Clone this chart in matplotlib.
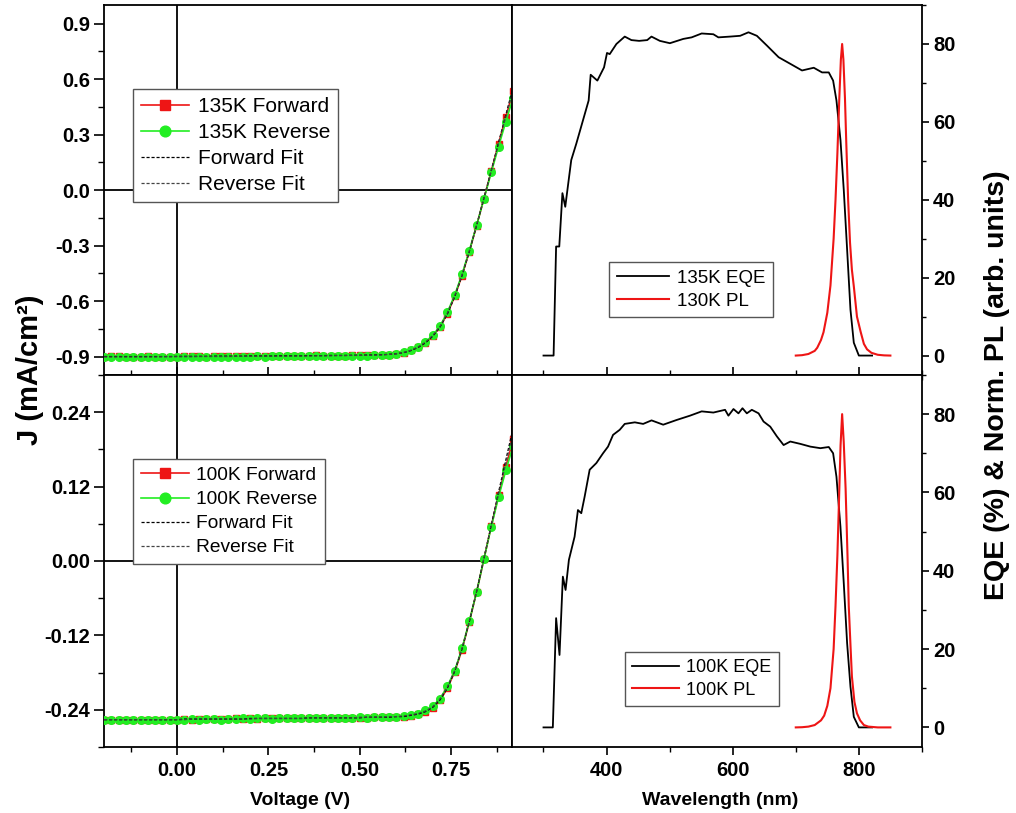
import numpy as np
import matplotlib
matplotlib.use("Agg")
import matplotlib.pyplot as plt
from matplotlib.ticker import MultipleLocator

plt.rcParams['font.family'] = ['Liberation Sans', 'DejaVu Sans']

volt = [-0.20, -0.18, -0.16, -0.14, -0.12, -0.10, -0.08, -0.06, -0.04, -0.02,
        0.00, 0.02, 0.04, 0.06, 0.08, 0.10, 0.12, 0.14, 0.16, 0.18,
        0.20, 0.22, 0.24, 0.26, 0.28, 0.30, 0.32, 0.34, 0.36, 0.38,
        0.40, 0.42, 0.44, 0.46, 0.48, 0.50, 0.52, 0.54, 0.56, 0.58,
        0.60, 0.62, 0.64, 0.66, 0.68, 0.70, 0.72, 0.74, 0.76, 0.78,
        0.80, 0.82, 0.84, 0.86, 0.88, 0.90, 0.92]

j135_fwd = [-0.902, -0.899, -0.899, -0.900, -0.900, -0.901, -0.899, -0.901, -0.900, -0.900,
            -0.901, -0.899, -0.898, -0.899, -0.900, -0.899, -0.897, -0.899, -0.898, -0.897,
            -0.898, -0.897, -0.899, -0.897, -0.896, -0.897, -0.895, -0.897, -0.896, -0.894,
            -0.896, -0.895, -0.896, -0.895, -0.894, -0.893, -0.893, -0.892, -0.891, -0.890,
            -0.887, -0.879, -0.866, -0.850, -0.826, -0.790, -0.740, -0.668, -0.575, -0.462,
            -0.333, -0.192, -0.046, 0.102, 0.250, 0.395, 0.535]
j135_rev = [-0.905, -0.903, -0.902, -0.903, -0.902, -0.903, -0.902, -0.903, -0.902, -0.902,
            -0.902, -0.901, -0.901, -0.902, -0.901, -0.901, -0.900, -0.901, -0.900, -0.900,
            -0.900, -0.899, -0.900, -0.899, -0.899, -0.899, -0.898, -0.899, -0.898, -0.898,
            -0.898, -0.897, -0.897, -0.897, -0.896, -0.896, -0.895, -0.894, -0.893, -0.891,
            -0.887, -0.878, -0.864, -0.846, -0.821, -0.785, -0.735, -0.660, -0.568, -0.455,
            -0.328, -0.190, -0.048, 0.095, 0.235, 0.370, 0.500]
j135_fwd_fit = [-0.900, -0.900, -0.900, -0.900, -0.900, -0.900, -0.900, -0.900, -0.900, -0.900,
                -0.899, -0.899, -0.899, -0.899, -0.899, -0.898, -0.898, -0.898, -0.898, -0.898,
                -0.897, -0.897, -0.897, -0.897, -0.896, -0.896, -0.896, -0.896, -0.895, -0.895,
                -0.895, -0.894, -0.894, -0.894, -0.893, -0.893, -0.892, -0.891, -0.890, -0.888,
                -0.885, -0.879, -0.868, -0.851, -0.826, -0.790, -0.740, -0.670, -0.577, -0.463,
                -0.333, -0.191, -0.044, 0.106, 0.257, 0.407, 0.557]
j135_rev_fit = [-0.902, -0.902, -0.902, -0.902, -0.902, -0.902, -0.902, -0.902, -0.901, -0.901,
                -0.901, -0.901, -0.901, -0.900, -0.900, -0.900, -0.900, -0.900, -0.899, -0.899,
                -0.899, -0.899, -0.898, -0.898, -0.898, -0.898, -0.897, -0.897, -0.897, -0.896,
                -0.896, -0.896, -0.895, -0.895, -0.894, -0.894, -0.893, -0.892, -0.891, -0.889,
                -0.885, -0.878, -0.866, -0.848, -0.822, -0.786, -0.736, -0.664, -0.571, -0.458,
                -0.329, -0.189, -0.045, 0.102, 0.250, 0.397, 0.542]

j100_fwd = [-0.257, -0.257, -0.256, -0.257, -0.256, -0.256, -0.256, -0.257, -0.256, -0.256,
            -0.256, -0.255, -0.256, -0.255, -0.255, -0.255, -0.255, -0.255, -0.254, -0.255,
            -0.254, -0.255, -0.254, -0.254, -0.254, -0.254, -0.254, -0.253, -0.254, -0.253,
            -0.254, -0.253, -0.253, -0.253, -0.254, -0.253, -0.253, -0.252, -0.252, -0.252,
            -0.252, -0.251, -0.250, -0.247, -0.243, -0.237, -0.225, -0.205, -0.179, -0.143,
            -0.098, -0.050, 0.003, 0.056, 0.106, 0.152, 0.196]
j100_rev = [-0.257, -0.256, -0.257, -0.256, -0.256, -0.257, -0.256, -0.256, -0.256, -0.257,
            -0.256, -0.256, -0.255, -0.256, -0.255, -0.255, -0.256, -0.255, -0.255, -0.254,
            -0.255, -0.254, -0.254, -0.255, -0.254, -0.254, -0.253, -0.254, -0.254, -0.253,
            -0.253, -0.254, -0.253, -0.253, -0.253, -0.252, -0.253, -0.252, -0.252, -0.251,
            -0.251, -0.250, -0.249, -0.246, -0.241, -0.234, -0.222, -0.202, -0.177, -0.141,
            -0.097, -0.050, 0.003, 0.055, 0.103, 0.146, 0.186]
j100_fwd_fit = [-0.256, -0.256, -0.256, -0.256, -0.256, -0.256, -0.256, -0.256, -0.256, -0.256,
                -0.256, -0.255, -0.255, -0.255, -0.255, -0.255, -0.255, -0.255, -0.255, -0.255,
                -0.254, -0.254, -0.254, -0.254, -0.254, -0.254, -0.254, -0.254, -0.253, -0.253,
                -0.253, -0.253, -0.253, -0.253, -0.253, -0.253, -0.252, -0.252, -0.252, -0.252,
                -0.251, -0.251, -0.249, -0.247, -0.243, -0.236, -0.224, -0.205, -0.178, -0.142,
                -0.098, -0.049, 0.004, 0.058, 0.111, 0.163, 0.215]
j100_rev_fit = [-0.256, -0.256, -0.256, -0.256, -0.256, -0.256, -0.256, -0.256, -0.256, -0.256,
                -0.256, -0.256, -0.255, -0.255, -0.255, -0.255, -0.255, -0.255, -0.255, -0.255,
                -0.255, -0.254, -0.254, -0.254, -0.254, -0.254, -0.254, -0.254, -0.253, -0.253,
                -0.253, -0.253, -0.253, -0.253, -0.253, -0.252, -0.252, -0.252, -0.252, -0.251,
                -0.251, -0.250, -0.248, -0.246, -0.242, -0.235, -0.222, -0.203, -0.177, -0.141,
                -0.097, -0.049, 0.004, 0.057, 0.108, 0.158, 0.207]

# ---- EQE / PL data ----
wl_eqe135 = [300, 316, 320, 325, 330, 334.5, 344, 352, 371.6, 374.8, 385.4, 396, 400.7, 405,
             415.6, 428.8, 439.4, 451.6, 464.4, 471.2, 484.5, 500.4, 521.6, 534.9, 550.8,
             569.3, 577.3, 595.8, 611.8, 625, 638.3, 654.2, 672.8, 691.4, 709.9, 728.5,
             741.7, 752.3, 759.2, 764.5, 770.9, 776.1, 781.4, 786.7, 792, 800, 821]
eqe135 = [0, 0, 28, 28, 41.7, 38.2, 50.2, 54.4, 65.5, 72.1, 70.6, 74, 77.7, 77.4,
          80, 81.9, 81, 80.8, 81, 81.9, 80.8, 80.2, 81.3, 81.7, 82.7,
          82.5, 81.7, 81.9, 82.1, 83, 82.1, 79.6, 76.6, 74.9, 73.2, 73.9,
          72.7, 72.7, 70.6, 65.5, 55.3, 42.5, 27.2, 11.8, 3.3, 0, 0]

wl_eqe100 = [300, 314.8, 320, 325.4, 330.7, 335, 340.3, 349.3, 354.6, 359.9, 365.2, 373.2,
             383.8, 394.4, 402.3, 410.3, 420.9, 428.8, 444.8, 458, 471.3, 489.8, 511,
             532.2, 550.8, 569.3, 587.9, 593.2, 601.2, 609.1, 615.5, 622.4, 630.3, 641,
             648.9, 659.5, 670.1, 680.7, 691.3, 707.2, 723.1, 739, 752.3, 759.2, 764.5,
             770.8, 776.1, 781.4, 786.7, 792, 800, 821]
eqe100 = [0, 0, 27.9, 18.5, 38.5, 35.1, 42.8, 48.7, 55.5, 54.7, 58.9, 65.8,
          67.5, 70, 71.7, 74.7, 76, 77.5, 77.9, 77.5, 78.4, 77.3, 78.5,
          79.6, 80.7, 80.4, 81.1, 79.6, 81.3, 80.2, 81.5, 80.2, 81.1, 80.2,
          78.1, 76.8, 74.3, 72.1, 73, 72.4, 71.7, 71.3, 71.6, 70, 64,
          51.3, 36.8, 21.5, 10.4, 2.7, 0, 0]

wl_pl130 = [700, 710, 720, 730, 734, 740, 744, 750, 755, 760, 763, 766, 769, 771.5, 773.5,
            775.5, 778, 780, 783, 786, 789, 792, 797, 803, 808, 813, 820, 830, 840, 850]
pl130 = [0, 0.1, 0.4, 1.2, 2, 4, 6, 11, 18, 30, 40, 52, 66, 76, 80,
         76, 66, 55, 40, 29, 22, 17.8, 10, 6, 3, 1.6, 0.7, 0.2, 0.05, 0]

wl_pl100 = [700, 710, 720, 730, 740, 745, 750, 755, 760, 763, 766, 768, 771, 773.5,
            776, 779, 782, 784, 787, 789, 793, 797, 802, 808, 815, 830, 850]
pl100 = [0, 0.05, 0.2, 0.6, 1.8, 3, 5.5, 10, 20, 31, 44, 55, 72, 80,
         73, 61, 44, 31, 20, 13, 6.5, 3.6, 1.8, 0.6, 0.2, 0, 0]

RED = '#ee1515'
GREEN = '#22ee22'
TICK_FS = 14.5

fig = plt.figure(figsize=(10.16, 8.13), dpi=100)

ax_tl = fig.add_axes([0.1024, 0.5387, 0.4016, 0.4551])
ax_bl = fig.add_axes([0.1024, 0.0812, 0.4016, 0.4576])
ax_tr = fig.add_axes([0.5039, 0.5387, 0.4035, 0.4551])
ax_br = fig.add_axes([0.5039, 0.0812, 0.4035, 0.4576])


def jv_panel(ax, fwd, rev, ffit, rfit, temp, ylim, major, minor, top):
    ax.axhline(0, color='black', lw=1.3, zorder=1)
    ax.axvline(0, color='black', lw=1.3, zorder=1)
    ax.plot(volt, fwd, color=RED, marker='s', ms=5, lw=1.2, label=temp + ' Forward', zorder=3)
    ax.plot(volt, rev, color=GREEN, marker='o', ms=5.5, lw=1.2, label=temp + ' Reverse', zorder=4)
    ax.plot(volt, ffit, color='black', ls=(0, (2.5, 1.5)), lw=0.9, label='Forward Fit', zorder=5)
    ax.plot(volt, rfit, color='#444444', ls=(0, (2.5, 1.5)), lw=0.9, label='Reverse Fit', zorder=5)
    ax.set_xlim(-0.2, 0.917)
    ax.set_ylim(*ylim)
    ax.xaxis.set_major_locator(MultipleLocator(0.25))
    ax.xaxis.set_minor_locator(MultipleLocator(0.125))
    ax.yaxis.set_major_locator(MultipleLocator(major))
    ax.yaxis.set_minor_locator(MultipleLocator(minor))
    ax.tick_params(axis='y', which='major', direction='out', length=7, width=1.2,
                   labelsize=TICK_FS, pad=3)
    ax.tick_params(axis='y', which='minor', direction='out', length=4, width=1.0)
    if top:
        ax.tick_params(axis='x', which='major', direction='inout', length=12, width=1.2,
                       labelbottom=False)
        ax.tick_params(axis='x', which='minor', direction='inout', length=7, width=1.0)
    else:
        ax.tick_params(axis='x', which='major', direction='out', length=6, width=1.2,
                       labelsize=TICK_FS, pad=4)
        ax.tick_params(axis='x', which='minor', direction='out', length=3.5, width=1.0)
    for s in ax.spines.values():
        s.set_linewidth(1.3)


jv_panel(ax_tl, j135_fwd, j135_rev, j135_fwd_fit, j135_rev_fit, '135K', (-1.0, 1.0), 0.3, 0.15, True)
ax_tl.yaxis.set_major_formatter(plt.FuncFormatter(lambda v, p: f'{v:.1f}'))
jv_panel(ax_bl, j100_fwd, j100_rev, j100_fwd_fit, j100_rev_fit, '100K', (-0.3, 0.3), 0.12, 0.06, False)
ax_bl.yaxis.set_major_formatter(plt.FuncFormatter(lambda v, p: f'{v:.2f}'))
ax_bl.xaxis.set_major_formatter(plt.FuncFormatter(lambda v, p: f'{v:.2f}'))
for ax in (ax_tl, ax_bl):
    for lab in ax.get_xticklabels() + ax.get_yticklabels():
        lab.set_fontweight('bold')

leg = ax_tl.legend(loc='upper left', bbox_to_anchor=(0.071, 0.773), borderaxespad=0,
                   fontsize=15, handlelength=2.3, handletextpad=0.4, labelspacing=0.33,
                   borderpad=0.4, fancybox=False, framealpha=1, edgecolor='#555555',
                   markerscale=1.4)
leg.get_frame().set_linewidth(1.0)
leg = ax_bl.legend(loc='upper left', bbox_to_anchor=(0.071, 0.774), borderaxespad=0,
                   fontsize=13.8, handlelength=2.5, handletextpad=0.4, labelspacing=0.35,
                   borderpad=0.4, fancybox=False, framealpha=1, edgecolor='#555555',
                   markerscale=1.4)
leg.get_frame().set_linewidth(1.0)


def spec_panel(ax, wl_e, eqe, wl_p, pl, e_lab, p_lab, top, anchor, fs, hl):
    ax.plot(wl_e, eqe, color='black', lw=1.3, label=e_lab)
    ax.plot(wl_p, pl, color=RED, lw=1.5, label=p_lab)
    ax.set_xlim(250, 900)
    ax.set_ylim(-5, 90)
    ax.xaxis.set_major_locator(MultipleLocator(200))
    ax.xaxis.set_minor_locator(MultipleLocator(100))
    ax.yaxis.set_major_locator(MultipleLocator(20))
    ax.yaxis.set_minor_locator(MultipleLocator(10))
    ax.yaxis.tick_right()
    ax.tick_params(axis='y', which='major', direction='out', length=5, width=1.2,
                   labelsize=TICK_FS, pad=3, left=False, right=True)
    ax.tick_params(axis='y', which='minor', direction='out', length=3, width=1.0,
                   left=False, right=True)
    if top:
        ax.tick_params(axis='x', which='major', direction='inout', length=12, width=1.2,
                       labelbottom=False)
        ax.tick_params(axis='x', which='minor', direction='inout', length=7, width=1.0)
    else:
        ax.tick_params(axis='x', which='major', direction='out', length=6, width=1.2,
                       labelsize=TICK_FS, pad=4)
        ax.tick_params(axis='x', which='minor', direction='out', length=3.5, width=1.0)
    for s in ax.spines.values():
        s.set_linewidth(1.3)
    for lab in ax.get_xticklabels() + ax.get_yticklabels():
        lab.set_fontweight('bold')
    leg = ax.legend(loc='upper left', bbox_to_anchor=anchor, borderaxespad=0,
                    fontsize=fs, handlelength=hl, handletextpad=0.4, labelspacing=0.3,
                    borderpad=0.4, fancybox=False, framealpha=1, edgecolor='#555555')
    leg.get_frame().set_linewidth(1.0)


spec_panel(ax_tr, wl_eqe135, eqe135, wl_pl130, pl130, '135K EQE', '130K PL', True,
           (0.237, 0.305), 13.5, 2.8)
spec_panel(ax_br, wl_eqe100, eqe100, wl_pl100, pl100, '100K EQE', '100K PL', False,
           (0.276, 0.255), 13, 2.6)

fig.text(300 / 1016, 1 - 800 / 813, 'Voltage (V)', ha='center', va='center',
         fontsize=14, fontweight='bold')
fig.text(720 / 1016, 1 - 800 / 813, 'Wavelength (nm)', ha='center', va='center',
         fontsize=14, fontweight='bold')
fig.text(30 / 1016, 1 - 370 / 813, 'J (mA/cm²)', ha='center', va='center',
         rotation=90, fontsize=21, fontweight='bold')
fig.text(997 / 1016, 1 - 385 / 813, 'EQE (%) & Norm. PL (arb. units)', ha='center',
         va='center', rotation=90, fontsize=20.5, fontweight='bold')

fig.savefig('out.png', dpi=100)
